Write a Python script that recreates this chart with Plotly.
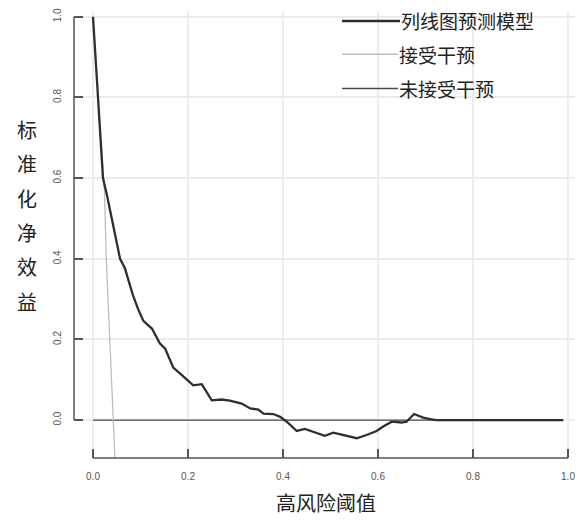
import plotly.graph_objects as go

# ---- data ----
model_x = [0.0, 0.011, 0.021, 0.029, 0.046, 0.057, 0.067, 0.084, 0.095, 0.106, 0.124, 0.141, 0.152,
           0.169, 0.183, 0.197, 0.211, 0.229, 0.25, 0.271, 0.288, 0.313, 0.331, 0.348, 0.359, 0.38,
           0.394, 0.408, 0.429, 0.446, 0.464, 0.488, 0.506, 0.527, 0.555, 0.576, 0.597, 0.611, 0.629,
           0.65, 0.66, 0.676, 0.695, 0.713, 0.723, 0.8, 0.9, 0.99]
model_y = [1.0, 0.788, 0.6, 0.56, 0.46, 0.40, 0.377, 0.31, 0.275, 0.246, 0.227, 0.19, 0.177,
           0.13, 0.116, 0.10, 0.086, 0.089, 0.049, 0.051, 0.048, 0.041, 0.029, 0.026, 0.016, 0.015,
           0.008, -0.004, -0.027, -0.022, -0.029, -0.039, -0.031, -0.037, -0.045, -0.037, -0.027, -0.016, -0.004,
           -0.006, -0.004, 0.015, 0.006, 0.002, 0.0, 0.0, 0.0, 0.0]

all_x = [0.0, 0.024, 0.028, 0.042, 0.05]
all_y = [1.0, 0.57, 0.40, 0.0, -0.2]

none_x = [0.0, 0.99]
none_y = [0.0, 0.0]

legend_names = ["列线图预测模型", "接受干预", "未接受干预"]
y_title_chars = ["标", "准", "化", "净", "效", "益"]
x_title = "高风险阈值"
tick_vals = [0.0, 0.2, 0.4, 0.6, 0.8, 1.0]
tick_text = ["0.0", "0.2", "0.4", "0.6", "0.8", "1.0"]

C_MODEL = "#2f2f2f"
C_ALL = "#bdbdbd"
C_NONE = "#4a4a4a"
CJK = "Noto Sans CJK SC"

fig = go.Figure()
fig.add_trace(go.Scatter(x=none_x, y=none_y, mode="lines", line=dict(color=C_NONE, width=1.4),
                         name=legend_names[2], showlegend=False))
fig.add_trace(go.Scatter(x=all_x, y=all_y, mode="lines", line=dict(color=C_ALL, width=1.3),
                         name=legend_names[1], showlegend=False))
fig.add_trace(go.Scatter(x=model_x, y=model_y, mode="lines", line=dict(color=C_MODEL, width=2.3),
                         name=legend_names[0], showlegend=False))

# page body has an 8px margin, so the figure is drawn 8px smaller and offset
OFF = 8
W, H = 583 - OFF, 522 - OFF
ML, MR, MT, MB = 74 - OFF, 0, 0, 64
pw, ph = W - ML - MR, H - MT - MB

def px2paper_x(px):  # px in reference picture pixels
    return (px - OFF - ML) / pw

def py2paper_y(py):
    return (H - MB - (py - OFF)) / ph

shapes = []
annotations = []

# axis lines (R style, detached span 0..1)
shapes.append(dict(type="line", xref="x", yref="paper", x0=0, x1=1, y0=0, y1=0,
                   line=dict(color="#555", width=1.5)))
shapes.append(dict(type="line", xref="paper", yref="y", x0=0, x1=0, y0=0, y1=1,
                   line=dict(color="#555", width=1.5)))

# legend box covering grid
shapes.append(dict(type="rect", xref="paper", yref="paper", x0=px2paper_x(330), x1=1.0,
                   y0=py2paper_y(107), y1=1.0, fillcolor="white", line=dict(width=0), layer="between"))

leg_rows = [(18, 342, 400, C_MODEL, 2.5), (51.5, 342, 398, C_ALL, 1.5), (86, 342, 398, C_NONE, 1.6)]
for name, (py, lx0, lx1, col, w) in zip(legend_names, leg_rows):
    shapes.append(dict(type="line", xref="paper", yref="paper", x0=px2paper_x(lx0), x1=px2paper_x(lx1),
                       y0=py2paper_y(py), y1=py2paper_y(py), line=dict(color=col, width=w)))
    annotations.append(dict(text=name, xref="paper", yref="paper", x=px2paper_x(lx1), y=py2paper_y(py),
                            xanchor="left", yanchor="middle", showarrow=False, borderpad=0,
                            font=dict(family=CJK, size=19, color="#222")))

for i, ch in enumerate(y_title_chars):
    annotations.append(dict(text=ch, xref="paper", yref="paper", x=px2paper_x(27),
                            y=py2paper_y(127.5 + 34.5 * i), xanchor="center", yanchor="middle",
                            showarrow=False, font=dict(family=CJK, size=20, color="#222")))

annotations.append(dict(text=x_title, xref="paper", yref="paper", x=px2paper_x(326), y=py2paper_y(503),
                        xanchor="center", yanchor="middle", showarrow=False,
                        font=dict(family=CJK, size=20, color="#222")))

y_per_unit = 406.0
y_bottom = -0.094
y_top = y_bottom + ph / y_per_unit

fig.update_layout(
    width=W, height=H,
    margin=dict(l=ML, r=MR, t=MT, b=MB, pad=0),
    paper_bgcolor="white", plot_bgcolor="white",
    shapes=shapes, annotations=annotations,
    showlegend=False,
    xaxis=dict(range=[-0.04, 1.0316], tickvals=tick_vals, ticktext=tick_text,
               ticks="inside", ticklen=9, tickwidth=1.5, tickcolor="#555",
               showgrid=True, gridcolor="#ececec", gridwidth=1.5, zeroline=False, showline=False,
               tickfont=dict(family="Liberation Sans", size=10, color="#555"), ticklabelstandoff=11,
               ticklabeloverflow="allow"),
    yaxis=dict(range=[y_bottom, y_top], tickvals=tick_vals, ticktext=tick_text,
               ticks="inside", ticklen=9, tickwidth=1.5, tickcolor="#555", tickangle=-90,
               showgrid=True, gridcolor="#ececec", gridwidth=1.5, zeroline=False, showline=False,
               tickfont=dict(family="Liberation Sans", size=10, color="#555"), ticklabelstandoff=10,
               ticklabeloverflow="allow"),
)

fig.write_html("out.html")
